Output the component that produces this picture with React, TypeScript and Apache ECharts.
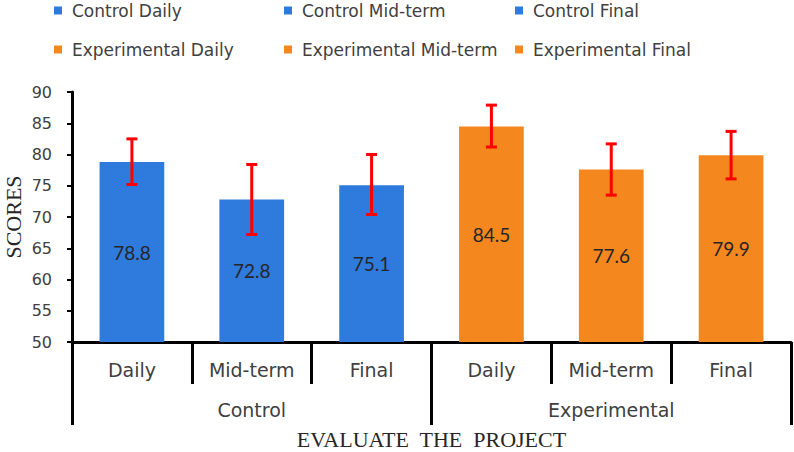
import React, { useEffect, useRef } from 'react';
import * as echarts from 'echarts';

const categories = ['Daily', 'Mid-term', 'Final', 'Daily', 'Mid-term', 'Final'];
const groups = ['Control', 'Experimental'];
const seriesNames = [
  'Control Daily',
  'Control Mid-term',
  'Control Final',
  'Experimental Daily',
  'Experimental Mid-term',
  'Experimental Final',
];
const means = [78.8, 72.8, 75.1, 84.5, 77.6, 79.9];
const errLow = [75.2, 67.2, 70.4, 81.2, 73.5, 76.1];
const errHigh = [82.5, 78.4, 80.0, 87.9, 81.7, 83.7];
const seriesColors = ['#2F7ADD', '#2F7ADD', '#2F7ADD', '#F5871F', '#F5871F', '#F5871F'];

const SANS = 'DejaVu Sans';
const SERIF = 'Liberation Serif';

export default function App() {
  const ref = useRef<HTMLDivElement>(null);
  useEffect(() => {
    if (!ref.current) return;
    const chart = echarts.init(ref.current, null, { renderer: 'svg' });
    const legendPos = [
      [54, 2],
      [284, 2],
      [515, 2],
      [54, 41],
      [284, 41],
      [515, 41],
    ];
    const option: any = {
      animation: false,
      legend: seriesNames.map((n, i) => ({
        data: [n],
        left: legendPos[i][0],
        top: legendPos[i][1],
        padding: 0,
        itemWidth: 8,
        itemHeight: 8,
        icon: 'rect',
        selectedMode: false,
        textStyle: { fontFamily: SANS, fontSize: 17, color: '#404040', padding: [0, 0, 0, 5] },
      })),
      grid: { left: 72, right: 3, top: 92, bottom: 110, outerBoundsMode: 'none', containLabel: false },
      xAxis: [
        {
          type: 'category',
          data: categories,
          position: 'bottom',
          axisLine: { show: true, lineStyle: { color: '#000', width: 3 } },
          axisTick: { show: true, length: 42, lineStyle: { color: '#000', width: 3 } },
          axisLabel: { margin: 18, fontFamily: SANS, fontSize: 19, color: '#404040' },
          splitLine: { show: false },
        },
        {
          type: 'category',
          data: groups,
          position: 'bottom',
          gridIndex: 0,
          axisLine: { show: false },
          axisTick: { show: true, length: 83, lineStyle: { color: '#000', width: 3 } },
          axisLabel: { margin: 58, fontFamily: SANS, fontSize: 19, color: '#404040' },
          splitLine: { show: false },
          name: 'EVALUATE  THE  PROJECT',
          nameLocation: 'middle',
          nameGap: 86,
          nameMoveOverlap: false,
          nameTextStyle: { fontFamily: SERIF, fontSize: 22, color: '#262626', lineHeight: 22 },
        },
      ],
      yAxis: {
        type: 'value',
        min: 50,
        max: 90,
        interval: 5,
        splitLine: { show: false },
        axisLine: { show: true, lineStyle: { color: '#000', width: 3 } },
        axisTick: { show: true, length: 5, lineStyle: { color: '#000', width: 2 } },
        axisLabel: { margin: 20, fontFamily: SANS, fontSize: 16, color: '#404040' },
        name: 'SCORES',
        nameLocation: 'middle',
        nameGap: 48,
        nameMoveOverlap: false,
        nameTextStyle: { fontFamily: SERIF, fontSize: 22, color: '#262626', lineHeight: 22 },
      },
      series: [
        ...seriesNames.map((n, i) => ({
          type: 'bar',
          name: n,
          xAxisIndex: 0,
          barGap: '-100%',
          barWidth: '54%',
          data: means.map((v, j) => (j === i ? v : '-')),
          itemStyle: { color: seriesColors[i] },
          label: {
            show: true,
            position: 'inside',
            fontFamily: 'Lato',
            fontSize: 19,
            color: '#262626',
            formatter: (p: any) => Number(p.value).toFixed(1),
          },
        })),
        {
          type: 'custom',
          name: 'error',
          xAxisIndex: 0,
          z: 10,
          data: means.map((m, i) => [i, errLow[i], errHigh[i]]),
          encode: { x: 0, y: [1, 2] },
          renderItem: (params: any, api: any) => {
            const x = api.value(0);
            const lo = api.coord([x, api.value(1)]);
            const hi = api.coord([x, api.value(2)]);
            const hw = 5.5;
            const style = { stroke: '#FF0000', lineWidth: 3 };
            return {
              type: 'group',
              children: [
                { type: 'line', shape: { x1: lo[0], y1: lo[1], x2: hi[0], y2: hi[1] }, style },
                { type: 'line', shape: { x1: hi[0] - hw, y1: hi[1], x2: hi[0] + hw, y2: hi[1] }, style },
                { type: 'line', shape: { x1: lo[0] - hw, y1: lo[1], x2: lo[0] + hw, y2: lo[1] }, style },
              ],
            };
          },
        },
      ],
    };
    chart.setOption(option);
    return () => chart.dispose();
  }, []);
  return (
    <div
      ref={ref}
      style={{ position: 'fixed', left: 0, top: 0, width: 794, height: 452, background: '#fff' }}
    />
  );
}
